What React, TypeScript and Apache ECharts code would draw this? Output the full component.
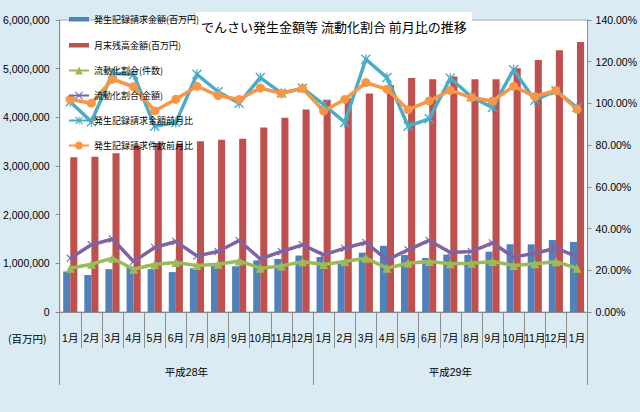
import React, { useEffect, useRef } from 'react';
import * as echarts from 'echarts';

const months = [
  '1月', '2月', '3月', '4月', '5月', '6月', '7月', '8月', '9月', '10月', '11月', '12月',
  '1月', '2月', '3月', '4月', '5月', '6月', '7月', '8月', '9月', '10月', '11月', '12月', '1月',
];
const groupNames = ['平成28年', '平成29年'];
const groupSpans = [12, 13];

// 百万円
const requestAmount = [
  830000, 760000, 880000, 930000, 880000, 820000, 900000, 950000, 940000, 1060000, 1090000, 1160000,
  1130000, 1000000, 1220000, 1360000, 1170000, 1110000, 1180000, 1170000, 1240000, 1390000, 1390000, 1480000, 1440000,
];
const balance = [
  3180000, 3190000, 3260000, 3420000, 3470000, 3460000, 3510000, 3540000, 3560000, 3790000, 3990000, 4160000,
  4360000, 4390000, 4490000, 4660000, 4810000, 4780000, 4840000, 4780000, 4780000, 5010000, 5180000, 5380000, 5550000,
];
// %
const ratioCount = [
  21.0, 22.9, 25.8, 20.5, 22.9, 23.7, 22.3, 22.9, 24.5, 21.0, 22.1, 24.1,
  22.8, 24.2, 25.8, 21.0, 23.4, 24.2, 23.1, 23.4, 24.2, 22.3, 23.1, 24.1, 21.0,
];
const ratioAmount = [
  25.8, 32.2, 35.0, 24.2, 30.9, 33.8, 26.9, 29.0, 34.3, 25.4, 29.0, 32.2,
  27.4, 30.6, 33.3, 25.0, 29.8, 34.3, 28.5, 29.0, 33.1, 26.3, 28.2, 30.6, 26.6,
];
const amountMoM = [
  100.8, 91.2, 114.5, 113.9, 89.0, 90.8, 114.0, 105.6, 100.1, 112.4, 104.9, 107.3,
  99.5, 90.9, 121.2, 112.4, 89.1, 92.6, 112.1, 103.2, 98.0, 116.2, 101.5, 106.1, 98.0,
];
const countMoM = [
  101.9, 100.1, 111.6, 108.0, 96.4, 102.0, 108.2, 103.8, 101.9, 107.4, 104.8, 107.2,
  96.4, 101.9, 110.0, 106.8, 97.0, 101.2, 106.3, 102.8, 101.2, 108.2, 103.3, 106.2, 97.2,
];

const JP = '"Noto Sans CJK JP", sans-serif';
const NUM = '"Liberation Sans", "Noto Sans CJK JP", sans-serif';
const AXIS_GRAY = '#8c8c8c';

const X_MARK = 'path://M0,1L1,0L5,4L9,0L10,1L6,5L10,9L9,10L5,6L1,10L0,9L4,5Z';
const STAR_MARK = X_MARK + 'M4.4,0H5.6V10H4.4Z';
// thin bar inside a 20x10 box so the legend keeps it flat
const BAR_ICON = 'path://M0,0L0.01,0L0,0.01Z M0,10L0.01,10L0,9.99Z M0,3H20V7.5H0Z';

const App: React.FC = () => {
  const chartRef = useRef<HTMLDivElement | null>(null);

  useEffect(() => {
    if (!chartRef.current) return;
    const chart = echarts.init(chartRef.current, undefined, { renderer: 'svg' });

    // group boundaries and label centres on the 0..25 scale of the second x axis
    const bounds = [0];
    const centres: number[] = [];
    groupSpans.forEach((s) => {
      const start = bounds[bounds.length - 1];
      centres.push(start + s / 2);
      bounds.push(start + s);
    });

    const lineSeries = (name: string, data: number[], color: string, symbol: string, size: number) => ({
      name,
      type: 'line',
      yAxisIndex: 1,
      data,
      symbol,
      symbolSize: size,
      lineStyle: { color, width: 3.5 },
      itemStyle: { color },
    });

    const option: any = {
      animation: false,
      backgroundColor: '#dbebf3',
      title: {
        text: 'でんさい発生金額等 流動化割合 前月比の推移',
        left: 196,
        top: 12,
        padding: [8, 5, 8, 5],
        backgroundColor: '#fff',
        textStyle: { fontSize: 13, fontWeight: 'normal', color: '#000', fontFamily: JP },
      },
      legend: {
        orient: 'vertical',
        left: 63,
        top: 9,
        z: 8,
        itemWidth: 20,
        itemHeight: 10,
        itemGap: 16,
        textStyle: { fontSize: 9, color: '#000', fontFamily: JP },
        data: [
          { name: '発生記録請求金額(百万円)', icon: BAR_ICON },
          { name: '月末残高金額(百万円)', icon: BAR_ICON },
          '流動化割合(件数)',
          '流動化割合(金額)',
          '発生記録請求金額前月比',
          '発生記録請求件数前月比',
        ],
      },
      grid: {
        left: 59,
        right: 52,
        top: 20,
        bottom: 100,
        show: true,
        backgroundColor: '#fff',
        borderColor: '#a6a6a6',
        borderWidth: 1,
      },
      xAxis: [
        {
          type: 'category',
          data: months,
          axisLine: { lineStyle: { color: AXIS_GRAY } },
          axisTick: { show: true, interval: 0, length: 36, lineStyle: { color: AXIS_GRAY } },
          axisLabel: { interval: 0, margin: 21, fontSize: 10.5, color: '#000', fontFamily: NUM },
        },
        {
          type: 'value',
          min: 0,
          max: months.length,
          position: 'bottom',
          axisLine: { show: false },
          splitLine: { show: false },
          axisTick: {
            show: true,
            length: 73,
            customValues: bounds,
            lineStyle: { color: AXIS_GRAY },
          },
          axisLabel: {
            customValues: centres,
            margin: 55,
            fontSize: 10.5,
            color: '#000',
            fontFamily: NUM,
            formatter: (v: number) => groupNames[centres.indexOf(v)] ?? '',
          },
        },
      ],
      yAxis: [
        {
          type: 'value',
          min: 0,
          max: 6000000,
          interval: 1000000,
          splitLine: { show: false },
          axisLine: { show: true, lineStyle: { color: AXIS_GRAY } },
          axisTick: { show: true, length: 4, lineStyle: { color: AXIS_GRAY } },
          axisLabel: {
            margin: 10,
            fontSize: 10.5,
            color: '#000',
            fontFamily: NUM,
            formatter: (v: number) => v.toLocaleString('en-US'),
          },
        },
        {
          type: 'value',
          min: 0,
          max: 140,
          interval: 20,
          position: 'right',
          splitLine: { show: false },
          axisLine: { show: true, lineStyle: { color: AXIS_GRAY } },
          axisTick: { show: true, length: 4, lineStyle: { color: AXIS_GRAY } },
          axisLabel: {
            margin: 8,
            fontSize: 10.5,
            color: '#000',
            fontFamily: NUM,
            formatter: (v: number) => v.toFixed(2) + '%',
          },
        },
      ],
      graphic: [
        {
          type: 'text',
          left: 8,
          top: 333,
          style: { text: '(百万円)', fontSize: 10.5, fill: '#000', fontFamily: JP },
        },
      ],
      series: [
        {
          name: '発生記録請求金額(百万円)',
          type: 'bar',
          data: requestAmount,
          barGap: '0%',
          barCategoryGap: '33%',
          itemStyle: { color: '#4f81bd' },
        },
        {
          name: '月末残高金額(百万円)',
          type: 'bar',
          data: balance,
          barGap: '0%',
          barCategoryGap: '33%',
          itemStyle: { color: '#c0504d' },
        },
        lineSeries('流動化割合(件数)', ratioCount, '#9bbb59', 'triangle', 9),
        lineSeries('流動化割合(金額)', ratioAmount, '#8064a2', X_MARK, 8),
        lineSeries('発生記録請求金額前月比', amountMoM, '#4bacc6', STAR_MARK, 10),
        lineSeries('発生記録請求件数前月比', countMoM, '#f79646', 'circle', 9),
      ],
    };

    chart.setOption(option);

    return () => {
      chart.dispose();
    };
  }, []);

  return (
    <div
      ref={chartRef}
      style={{ position: 'fixed', left: 0, top: 0, width: '640px', height: '412px' }}
    />
  );
};

export default App;
